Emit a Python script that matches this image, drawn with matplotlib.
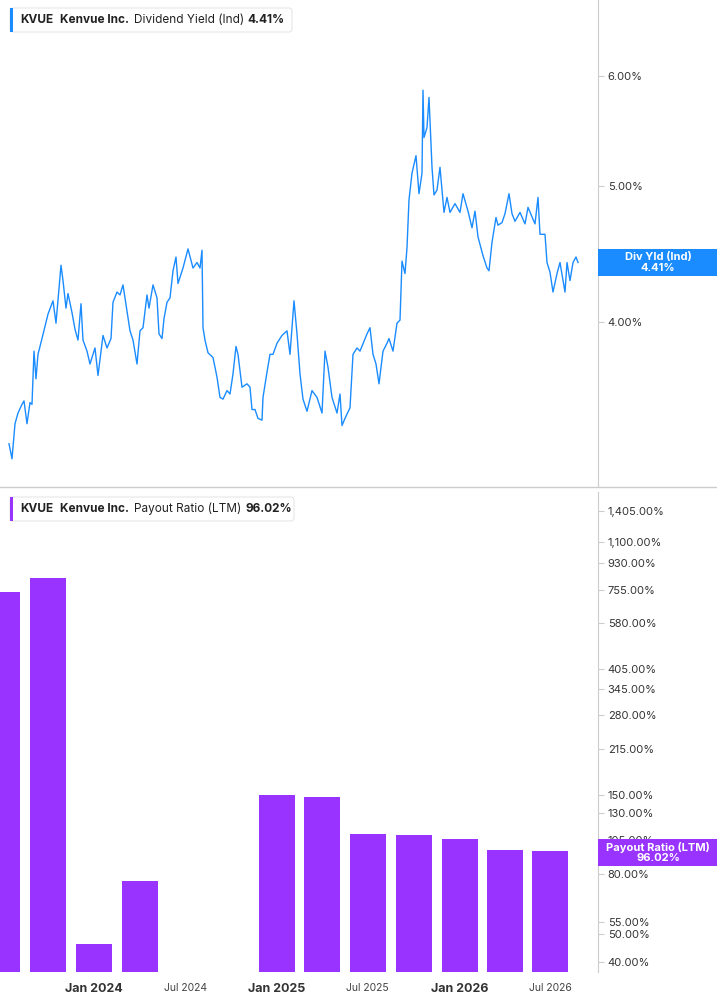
import matplotlib
matplotlib.use("Agg")
import matplotlib.pyplot as plt
import pandas as pd
from matplotlib.patches import FancyBboxPatch, Rectangle

plt.rcParams['font.family'] = ['Inter', 'DejaVu Sans']

# Dividend yield (%), day offsets from 2024-01-01
yield_days = [-170,-164,-158,-152,-144,-140,-134,-128,-124,-120,-116,-112,-104,-98,-92,-82,-76,-66,-62,-56,-52,-44,-38,-32,-26,-22,-14,-8,2,8,16,18,26,34,38,46,52,58,66,72,78,86,92,98,106,110,118,126,130,136,140,146,152,158,164,168,178,188,198,206,212,216,218,222,228,238,246,252,258,266,272,278,284,288,296,306,312,316,322,328,336,338,346,352,358,366,376,386,392,400,406,412,418,426,436,446,456,462,468,476,486,492,496,502,512,518,526,532,546,552,558,564,570,578,586,590,598,606,612,616,622,626,630,636,644,650,656,658,660,666,670,676,680,686,692,700,706,712,722,732,738,748,756,762,768,778,786,790,796,804,808,816,822,830,836,842,852,862,868,882,888,892,902,906,912,918,926,932,942,946,952,958,964,968]
yield_vals = [3.27,3.19,3.38,3.44,3.49,3.51,3.38,3.50,3.49,3.81,3.64,3.79,3.89,3.97,4.05,4.14,3.99,4.39,4.28,4.09,4.19,4.06,3.95,3.88,4.12,3.88,3.81,3.73,3.83,3.66,3.86,3.91,3.83,3.89,4.13,4.20,4.18,4.25,4.07,3.94,3.88,3.73,3.94,3.96,4.18,4.09,4.25,4.16,3.92,3.89,4.02,4.13,4.16,4.35,4.45,4.26,4.37,4.51,4.37,4.41,4.37,4.50,3.96,3.88,3.80,3.77,3.65,3.53,3.52,3.57,3.55,3.67,3.84,3.79,3.59,3.61,3.59,3.46,3.46,3.41,3.40,3.53,3.68,3.79,3.79,3.86,3.91,3.94,3.79,4.14,3.92,3.67,3.52,3.45,3.57,3.53,3.44,3.81,3.71,3.53,3.44,3.55,3.37,3.41,3.47,3.79,3.83,3.81,3.92,3.96,3.79,3.73,3.61,3.81,3.86,3.89,3.81,3.99,4.01,4.42,4.33,4.52,4.89,5.11,5.26,4.94,5.11,5.86,5.42,5.51,5.79,5.16,4.93,4.97,5.16,4.79,4.91,4.79,4.86,4.79,4.94,4.80,4.67,4.80,4.60,4.46,4.37,4.35,4.56,4.75,4.69,4.71,4.78,4.94,4.78,4.72,4.79,4.70,4.83,4.70,4.91,4.62,4.62,4.41,4.34,4.20,4.33,4.41,4.20,4.41,4.28,4.41,4.45,4.41]

payout_dates = ['2023-07-01','2023-10-01','2024-01-01','2024-04-01','2025-01-01','2025-04-01',
                '2025-07-01','2025-10-01','2026-01-01','2026-04-01','2026-07-01']
payout_vals = [741, 828, 46, 76, 149, 147, 110, 109, 106, 97, 96.02]

top_ticks = [4, 5, 6]
bot_ticks = [40, 50, 55, 80, 105, 130, 150, 215, 280, 345, 405, 580, 755, 930, 1100, 1405]
x_ticks = ['2024-01-01','2024-07-01','2025-01-01','2025-07-01','2026-01-01','2026-07-01']
x_labels = ['Jan 2024','Jul 2024','Jan 2025','Jul 2025','Jan 2026','Jul 2026']

BLUE = '#1a8cff'
PURPLE = '#9933ff'
GRID = '#cccccc'

base = pd.Timestamp('2024-01-01')
ydates = [base + pd.Timedelta(days=d) for d in yield_days]
pdates = pd.to_datetime(payout_dates)
xmin = base + pd.Timedelta(days=-188)
xmax = base + pd.Timedelta(days=1008)

fig = plt.figure(figsize=(7.17, 10.05), dpi=100)
W, H = 717, 1005
ax1 = fig.add_axes([0, (H-486)/H, 598/W, 486/H])
ax2 = fig.add_axes([0, (H-972)/H, 598/W, (972-492)/H])

for ax in (ax1, ax2):
    for s in ['top', 'left', 'bottom']:
        ax.spines[s].set_visible(False)
    ax.spines['right'].set_color(GRID)
    ax.yaxis.tick_right()
    ax.set_xlim(xmin, xmax)
    ax.set_yscale('log')
    ax.yaxis.set_minor_locator(matplotlib.ticker.NullLocator())
    ax.tick_params(axis='y', length=4, color=GRID, labelsize=8, labelcolor='#333333', pad=3)

ax1.plot(ydates, yield_vals, color=BLUE, lw=1.0)
ax1.set_ylim(3.05, 6.8)
ax1.set_yticks(top_ticks)
ax1.set_yticklabels([f'{t:.2f}%' for t in top_ticks])
ax1.set_xticks([])

ax2.bar(pdates, payout_vals, width=72, color=PURPLE, align='center')
ax2.set_ylim(37, 1632)
ax2.set_yticks(bot_ticks)
ax2.set_yticklabels([f'{t:,.2f}%' for t in bot_ticks])
ax2.set_xticks(pd.to_datetime(x_ticks))
ax2.set_xticklabels(x_labels)
ax2.tick_params(axis='x', length=0, pad=8)
for lab in ax2.get_xticklabels():
    if lab.get_text().startswith('Jan'):
        lab.set_fontsize(9); lab.set_fontweight('bold'); lab.set_color('#333333')
    else:
        lab.set_fontsize(7.5); lab.set_color('#444444')

fig.add_artist(plt.Line2D([0, 1], [(H-487)/H]*2, color=GRID, lw=1))

def fig_box(x0, y0, w, h, color):
    fig.add_artist(Rectangle((x0/W, (H-y0-h)/H), w/W, h/H, fc=color, ec='none', zorder=5))

fig_box(598, 249, 119, 27, BLUE)
fig_box(598, 839, 119, 27, PURPLE)
fig.text((598+60)/W, (H-262.5)/H, 'Div Yld (Ind)\n4.41%', ha='center', va='center',
         fontsize=8, fontweight='bold', color='white', linespacing=1.1, zorder=7)
fig.text((598+60)/W, (H-852.5)/H, 'Payout Ratio (LTM)\n96.02%', ha='center', va='center',
         fontsize=8, fontweight='bold', color='white', linespacing=1.1, zorder=7)

def legend(y0, w, parts, color):
    fig.add_artist(FancyBboxPatch((10/W, (H-y0-24)/H), w/W, 24/H,
                                  boxstyle='round,pad=0,rounding_size=0.004',
                                  fc='white', ec='#e6e6e6', lw=0.8, zorder=5))
    fig.add_artist(Rectangle((10/W, (H-y0-24)/H), 3/W, 24/H, fc=color, ec='none', zorder=6))
    x = 20
    for txt, wt, dx in parts:
        fig.text(x/W, (H-y0-12)/H, txt, ha='left', va='center', fontsize=8.5,
                 fontweight=wt, color='#222222', zorder=7)
        x += dx

legend(8, 282, [('KVUE', 'bold', 40), ('Kenvue Inc.', 'bold', 74),
                ('Dividend Yield (Ind)', 'normal', 113), ('4.41%', 'bold', 0)], BLUE)
legend(497, 284, [('KVUE', 'bold', 40), ('Kenvue Inc.', 'bold', 74),
                  ('Payout Ratio (LTM)', 'normal', 112), ('96.02%', 'bold', 0)], PURPLE)

fig.savefig('out.png', dpi=100, facecolor='white')
